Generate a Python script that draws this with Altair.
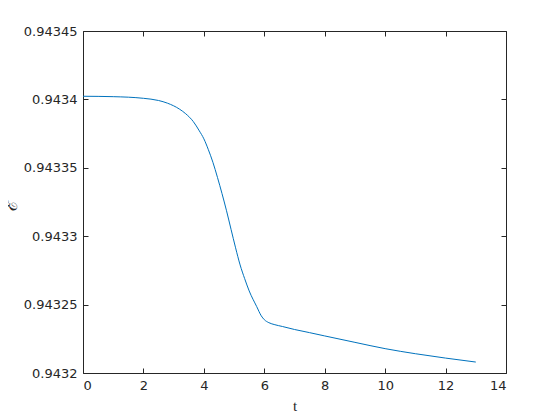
import altair as alt
import pandas as pd

t_vals = [0.0, 1.0, 2.0, 2.5, 2.8, 3.2, 3.4, 3.65, 3.85, 4.0, 4.15, 4.3, 4.45,
          4.6, 4.75, 4.9, 5.05, 5.2, 5.35, 5.5, 5.75, 5.9, 6.0, 6.15, 6.35, 6.6,
          7.0, 7.5, 8.0, 9.0, 10.0, 11.0, 12.0, 13.0]
E_vals = [0.9434023, 0.9434020, 0.9434008, 0.9433992, 0.9433972, 0.9433928,
          0.9433895, 0.9433838, 0.9433770, 0.9433712, 0.9433632, 0.9433540,
          0.9433430, 0.9433312, 0.9433186, 0.9433050, 0.9432915, 0.9432790,
          0.9432690, 0.9432600, 0.9432485, 0.9432418, 0.9432390, 0.9432368,
          0.9432353, 0.9432340, 0.9432318, 0.9432295, 0.9432271, 0.9432224,
          0.9432178, 0.9432141, 0.9432109, 0.9432080]
x_ticks = [0, 2, 4, 6, 8, 10, 12, 14]
y_ticks = [0.9432, 0.94325, 0.9433, 0.94335, 0.9434, 0.94345]

df = pd.DataFrame({"t": t_vals, "E": E_vals})

W, H = 423, 342
AX = "#262626"
FONT = "DejaVu Sans"

xscale = alt.Scale(domain=[0, 14], nice=False)
yscale = alt.Scale(domain=[0.9432, 0.94345], nice=False, zero=False)

main = alt.Chart(df).mark_line(color="#0072BD", strokeWidth=1, interpolate="monotone").encode(
    x=alt.X("t:Q", scale=xscale,
            axis=alt.Axis(orient="bottom", values=x_ticks, title="t", ticks=False,
                          domain=False, grid=False, labelFont=FONT, labelFontSize=13,
                          labelColor=AX, labelPadding=6, titleFont="Liberation Serif",
                          titleFontSize=15, titleFontWeight="normal", titleColor=AX,
                          titlePadding=6)),
    y=alt.Y("E:Q", scale=yscale,
            axis=alt.Axis(orient="left", values=y_ticks, format=".5~f", title="ℰ",
                          ticks=False, domain=False, grid=False, labelFont=FONT,
                          labelFontSize=13, labelColor=AX, labelPadding=6,
                          titleFont="DejaVu Serif", titleFontSize=18,
                          titleFontWeight="normal", titleColor=AX,
                          titleX=-72, titleY=174, titleAlign="center",
                          titleBaseline="middle", titleAngle=270)),
)

def tick_axis(xorient, yorient):
    return alt.Chart(df).mark_line(strokeOpacity=0).encode(
        x=alt.X("t:Q", scale=xscale,
                axis=alt.Axis(orient=xorient, offset=-H, values=x_ticks, labels=False,
                              title=None, domain=False, grid=False, ticks=True,
                              tickSize=5, tickColor=AX, tickWidth=1)),
        y=alt.Y("E:Q", scale=yscale,
                axis=alt.Axis(orient=yorient, offset=-W, values=y_ticks, labels=False,
                              title=None, domain=False, grid=False, ticks=True,
                              tickSize=5, tickColor=AX, tickWidth=1)),
    )

chart = alt.layer(
    main,
    tick_axis("top", "right"),
    tick_axis("bottom", "left"),
).resolve_axis(x="independent", y="independent").properties(
    width=W, height=H,
    autosize=alt.AutoSizeParams(type="none"),
    padding={"left": 75, "top": 23, "right": 40, "bottom": 40},
).configure_view(stroke=AX, strokeWidth=1)

chart.save("out.html", embed_options={"renderer": "svg", "actions": False})
